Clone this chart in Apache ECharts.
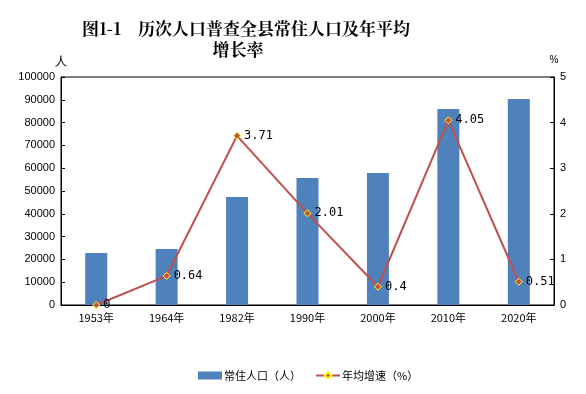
<!DOCTYPE html>
<html><head><meta charset="utf-8">
<script src="https://cdn.jsdelivr.net/npm/echarts@6/dist/echarts.min.js"></script>
<style>html,body{margin:0;padding:0;background:#fff}#c{width:586px;height:394px}</style>
</head><body><div id="c"></div>
<script>
const categories = ['1953年','1964年','1982年','1990年','2000年','2010年','2020年'];
const population = [22800, 24600, 47400, 55700, 57900, 86000, 90400];
const growthRate = [0, 0.64, 3.71, 2.01, 0.4, 4.05, 0.51];
const leftTicks = [0, 100000, 10000];
const rightTicks = [0, 5, 1];

const chart = echarts.init(document.getElementById('c'), null, {renderer:'canvas'});
chart.setOption({
  animation: false,
  backgroundColor: '#fff',
  title: [
    {text: '图1-1　历次人口普查全县常住人口及年平均', left: 241, top: 15, textAlign: 'center',
     textStyle: {fontSize: 17, fontWeight: 'bold', color: '#000', fontFamily: '"Noto Serif CJK SC", "Noto Sans CJK SC", serif'}},
    {text: '增长率', left: 233, top: 36, textAlign: 'center',
     textStyle: {fontSize: 17, fontWeight: 'bold', color: '#000', fontFamily: '"Noto Serif CJK SC", "Noto Sans CJK SC", serif'}}
  ],
  grid: {left: 61, right: 32, top: 77, bottom: 89, show: true, borderColor: '#000', borderWidth: 1},
  legend: {
    bottom: 8, left: 193, itemGap: 14, itemWidth: 24, itemHeight: 8,
    textStyle: {fontSize: 11, color: '#000', fontFamily: '"Noto Sans CJK SC", sans-serif', padding: [0,0,0,-3]},
    data: [
      {name: '常住人口（人）', icon: 'rect'},
      {name: '年均增速（%）'}
    ]
  },
  xAxis: {
    type: 'category', data: categories,
    axisLine: {lineStyle: {color: '#000'}},
    axisTick: {inside: true, length: 4, lineStyle: {color: '#000'}},
    axisLabel: {color: '#000', fontSize: 11, margin: 7, fontFamily: '"Noto Sans CJK SC", sans-serif'}
  },
  yAxis: [
    {type: 'value', name: '人', min: leftTicks[0], max: leftTicks[1], interval: leftTicks[2],
     nameGap: 9, nameTextStyle: {color: '#000', fontSize: 12, align: 'center'},
     splitLine: {show: false},
     axisLine: {show: true, lineStyle: {color: '#000'}},
     axisTick: {show: true, inside: true, length: 4, lineStyle: {color: '#000'}},
     axisLabel: {color: '#000', fontSize: 11, margin: 6, formatter: v => String(v),
       fontFamily: 'Arial, "Liberation Sans", sans-serif'}},
    {type: 'value', name: '%', min: rightTicks[0], max: rightTicks[1], interval: rightTicks[2],
     nameGap: 12, nameTextStyle: {color: '#000', fontSize: 10, align: 'center'},
     splitLine: {show: false},
     axisLine: {show: true, lineStyle: {color: '#000'}},
     axisTick: {show: true, inside: true, length: 4, lineStyle: {color: '#000'}},
     axisLabel: {color: '#000', fontSize: 11, margin: 6, formatter: v => String(v),
       fontFamily: 'Arial, "Liberation Sans", sans-serif'}}
  ],
  series: [
    {name: '常住人口（人）', type: 'bar', data: population, barWidth: 22,
     itemStyle: {color: '#4F81BD'}},
    {name: '年均增速（%）', type: 'line', yAxisIndex: 1, data: growthRate,
     symbol: 'diamond', symbolSize: 7,
     lineStyle: {color: '#C0504D', width: 2},
     itemStyle: {color: '#C0504D', borderColor: '#FFFF00', borderWidth: 1},
     label: {show: true, position: 'right', distance: 3, color: '#000', fontSize: 12,
       fontFamily: '"DejaVu Sans Mono", monospace'}}
  ]
});
</script></body></html>
